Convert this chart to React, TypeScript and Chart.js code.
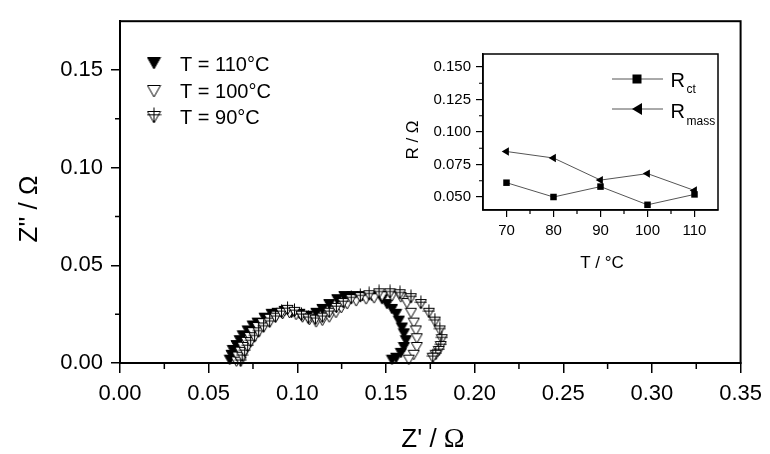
import React, { useEffect, useRef } from 'react';
import { Chart, registerables } from 'chart.js';

Chart.register(...registerables);

// ---------- data ----------
const SERIES_LABELS = ['T = 110°C', 'T = 100°C', 'T = 90°C'];

const T110_X = [0.0619, 0.0629, 0.0636, 0.0657, 0.0675, 0.0692, 0.0720, 0.0748, 0.0776, 0.0815, 0.0855, 0.0888, 0.0928, 0.0967, 0.1012, 0.1057, 0.1107, 0.1141, 0.1180, 0.1225, 0.1265, 0.1310, 0.1366, 0.1422, 0.1478, 0.1506, 0.1534, 0.1557, 0.1573, 0.1590, 0.1601, 0.1612, 0.1601, 0.1584, 0.1557, 0.1534];
const T110_Y = [0.0017, 0.0042, 0.0067, 0.0092, 0.0117, 0.0142, 0.0167, 0.0192, 0.0207, 0.0232, 0.0252, 0.0257, 0.0267, 0.0257, 0.0252, 0.0242, 0.0257, 0.0277, 0.0302, 0.0327, 0.0343, 0.0343, 0.0343, 0.0343, 0.0327, 0.0302, 0.0277, 0.0252, 0.0217, 0.0182, 0.0152, 0.0117, 0.0082, 0.0052, 0.0027, 0.0017];

const T100_X = [0.0657, 0.0664, 0.0679, 0.0692, 0.0713, 0.0731, 0.0748, 0.0776, 0.0804, 0.0844, 0.0881, 0.0917, 0.0956, 0.0993, 0.1029, 0.1068, 0.1106, 0.1141, 0.1180, 0.1218, 0.1248, 0.1281, 0.1332, 0.1388, 0.1433, 0.1478, 0.1534, 0.1584, 0.1618, 0.1641, 0.1657, 0.1669, 0.1674, 0.1674, 0.1657, 0.1629];
const T100_Y = [0.0008, 0.0033, 0.0058, 0.0083, 0.0108, 0.0133, 0.0158, 0.0184, 0.0204, 0.0226, 0.0242, 0.0251, 0.0256, 0.0247, 0.0234, 0.0221, 0.0209, 0.0217, 0.0234, 0.0257, 0.0282, 0.0302, 0.0317, 0.0327, 0.0332, 0.0343, 0.0343, 0.0337, 0.0307, 0.0257, 0.0207, 0.0167, 0.0127, 0.0082, 0.0042, 0.0017];

const T90_X = [0.0681, 0.0689, 0.0703, 0.0720, 0.0737, 0.0759, 0.0782, 0.0810, 0.0844, 0.0877, 0.0911, 0.0945, 0.0984, 0.1023, 0.1062, 0.1102, 0.1141, 0.1180, 0.1220, 0.1259, 0.1304, 0.1355, 0.1405, 0.1461, 0.1523, 0.1579, 0.1641, 0.1697, 0.1742, 0.1776, 0.1804, 0.1815, 0.1809, 0.1798, 0.1781, 0.1764];
const T90_Y = [0.0007, 0.0032, 0.0057, 0.0082, 0.0107, 0.0132, 0.0157, 0.0182, 0.0207, 0.0232, 0.0257, 0.0272, 0.0262, 0.0242, 0.0227, 0.0222, 0.0232, 0.0257, 0.0282, 0.0307, 0.0327, 0.0337, 0.0347, 0.0357, 0.0357, 0.0352, 0.0332, 0.0302, 0.0257, 0.0212, 0.0167, 0.0122, 0.0087, 0.0062, 0.0042, 0.0027];

const MAIN_X_TICKS = [0, 0.05, 0.1, 0.15, 0.2, 0.25, 0.3, 0.35];
const MAIN_X_MINOR = [0.025, 0.075, 0.125, 0.175, 0.225, 0.275, 0.325];
const MAIN_Y_TICKS = [0, 0.05, 0.1, 0.15];
const MAIN_Y_MINOR = [0.025, 0.075, 0.125];

// inset
const TEMPS = [70, 80, 90, 100, 110];
const R_CT = [0.061, 0.050, 0.058, 0.044, 0.052];
const R_MASS = [0.085, 0.080, 0.063, 0.068, 0.055];
const INSET_X_TICKS = [70, 80, 90, 100, 110];
const INSET_X_MINOR = [75, 85, 95, 105];
const INSET_Y_TICKS = [0.05, 0.075, 0.1, 0.125, 0.15];
const INSET_Y_MINOR = [0.0625, 0.0875, 0.1125, 0.1375];

// ---------- helpers ----------
const SANS = "'Liberation Sans', Arial, sans-serif";
const SERIF = "'Liberation Serif', 'Times New Roman', serif";

const pts = (xs: number[], ys: number[]) => xs.map((x, i) => ({ x, y: ys[i] }));

type Kind = 'filled' | 'open' | 'cross';
function makeTri(kind: Kind, w: number, h: number): HTMLCanvasElement {
  const ext = kind === 'cross' ? 3 : 0;
  const c = document.createElement('canvas');
  c.width = w + 2;
  c.height = h + 2 + 2 * ext;
  const g = c.getContext('2d')!;
  const x0 = 1;
  const y0 = 1 + ext;
  g.beginPath();
  g.moveTo(x0, y0 + 0.5);
  g.lineTo(x0 + w, y0 + 0.5);
  g.lineTo(x0 + w / 2, y0 + h);
  g.closePath();
  g.lineWidth = 1;
  g.strokeStyle = '#000';
  g.fillStyle = kind === 'filled' ? '#000' : '#fff';
  g.fill();
  g.stroke();
  if (kind === 'cross') {
    g.beginPath();
    g.moveTo(x0 + w / 2, 0.5);
    g.lineTo(x0 + w / 2, y0 + h);
    const hy = y0 + h * 0.32;
    g.moveTo(x0 - 0.5, hy);
    g.lineTo(x0 + w + 0.5, hy);
    g.stroke();
  }
  return c;
}

function drawMixed(ctx: CanvasRenderingContext2D, parts: [string, string][], cx: number, by: number) {
  let total = 0;
  parts.forEach(([t, f]) => { ctx.font = f; total += ctx.measureText(t).width; });
  let x = cx - total / 2;
  ctx.textAlign = 'left';
  ctx.textBaseline = 'alphabetic';
  parts.forEach(([t, f]) => { ctx.font = f; ctx.fillText(t, x, by); x += ctx.measureText(t).width; });
}

export default function App() {
  const mainRef = useRef<HTMLCanvasElement>(null);
  const insetRef = useRef<HTMLCanvasElement>(null);

  useEffect(() => {
    const mFilled = makeTri('filled', 11, 10);
    const mOpen = makeTri('open', 11, 10);
    const mCross = makeTri('cross', 11, 10);
    const lFilled = makeTri('filled', 13, 12);
    const lOpen = makeTri('open', 13, 12);
    const lCross = makeTri('cross', 13, 12);

    const mainDecor = {
      id: 'mainDecor',
      afterDraw(chart: any) {
        const { ctx, chartArea: a, scales } = chart;
        const xs = scales.x, ys = scales.y;
        ctx.save();
        ctx.strokeStyle = '#000';
        ctx.lineWidth = 2;
        ctx.strokeRect(a.left, a.top, a.right - a.left, a.bottom - a.top);
        ctx.lineWidth = 1.5;
        ctx.beginPath();
        MAIN_X_MINOR.forEach(v => { const p = xs.getPixelForValue(v); ctx.moveTo(p, a.bottom); ctx.lineTo(p, a.bottom + 6); });
        MAIN_Y_MINOR.forEach(v => { const p = ys.getPixelForValue(v); ctx.moveTo(a.left - 5, p); ctx.lineTo(a.left, p); });
        ctx.stroke();
        ctx.fillStyle = '#000';
        // axis titles
        drawMixed(ctx, [["Z' / ", `26px ${SANS}`], ['Ω', `28px ${SERIF}`]], 433, 447);
        ctx.save();
        ctx.translate(37, 209);
        ctx.rotate(-Math.PI / 2);
        drawMixed(ctx, [["Z'' / Ω", `26px ${SANS}`]], 0, 0);
        ctx.restore();
        // legend
        const imgs = [lFilled, lOpen, lCross];
        const my = [63, 91, 117];
        const ty = [70.5, 98, 123.5];
        imgs.forEach((im, i) => ctx.drawImage(im, 154 - im.width / 2, my[i] - im.height / 2));
        ctx.font = `20px ${SANS}`;
        ctx.textAlign = 'left';
        ctx.textBaseline = 'alphabetic';
        SERIES_LABELS.forEach((t, i) => ctx.fillText(t, 180, ty[i]));
        ctx.restore();
      },
    };

    const main = new Chart(mainRef.current!, {
      type: 'scatter',
      data: {
        datasets: [
          { label: SERIES_LABELS[0], data: pts(T110_X, T110_Y), pointStyle: mFilled as any, pointRadius: 5, showLine: false, clip: false as any, order: 3 },
          { label: SERIES_LABELS[1], data: pts(T100_X, T100_Y), pointStyle: mOpen as any, pointRadius: 5, showLine: false, clip: false as any, order: 2 },
          { label: SERIES_LABELS[2], data: pts(T90_X, T90_Y), pointStyle: mCross as any, pointRadius: 5, showLine: false, clip: false as any, order: 1 },
        ],
      },
      options: {
        animation: false,
        responsive: false,
        events: [],
        layout: { padding: { left: 0, top: 15, right: 27, bottom: 0 } },
        plugins: { legend: { display: false }, tooltip: { enabled: false } },
        scales: {
          x: {
            type: 'linear', min: 0, max: 0.35,
            afterBuildTicks: (s: any) => { s.ticks = MAIN_X_TICKS.map(v => ({ value: v })); },
            afterFit: (s: any) => { s.height = 91; },
            ticks: { callback: (v: any) => Number(v).toFixed(2), color: '#000', font: { family: SANS, size: 22 }, padding: 8, maxRotation: 0, autoSkip: false },
            grid: { drawOnChartArea: false, drawTicks: true, tickLength: 10, color: '#000', lineWidth: 1.5 },
            border: { display: true, color: '#000', width: 2 },
          },
          y: {
            type: 'linear', min: 0, max: 0.175,
            afterBuildTicks: (s: any) => { s.ticks = MAIN_Y_TICKS.map(v => ({ value: v })); },
            afterFit: (s: any) => { s.width = 120; },
            ticks: { callback: (v: any) => Number(v).toFixed(2), color: '#000', font: { family: SANS, size: 22 }, padding: 8, autoSkip: false },
            grid: { drawOnChartArea: false, drawTicks: true, tickLength: 9, color: '#000', lineWidth: 1.5 },
            border: { display: true, color: '#000', width: 2 },
          },
        },
      },
      plugins: [mainDecor],
    } as any);

    const IOX = 395, IOY = 40;
    const insetDecor = {
      id: 'insetDecor',
      afterDraw(chart: any) {
        const { ctx, chartArea: a, scales } = chart;
        const xs = scales.x, ys = scales.y;
        ctx.save();
        ctx.strokeStyle = '#000';
        ctx.lineWidth = 1.5;
        ctx.strokeRect(a.left, a.top, a.right - a.left, a.bottom - a.top);
        ctx.lineWidth = 1.2;
        ctx.beginPath();
        INSET_X_MINOR.forEach(v => { const p = xs.getPixelForValue(v); ctx.moveTo(p, a.bottom); ctx.lineTo(p, a.bottom + 4); });
        INSET_Y_MINOR.forEach(v => { const p = ys.getPixelForValue(v); ctx.moveTo(a.left - 4, p); ctx.lineTo(a.left, p); });
        ctx.stroke();
        ctx.fillStyle = '#000';
        drawMixed(ctx, [['T / °C', `17px ${SANS}`]], 602 - IOX, 268 - IOY);
        ctx.save();
        ctx.translate(418 - IOX, 140 - IOY);
        ctx.rotate(-Math.PI / 2);
        drawMixed(ctx, [['R / Ω', `17px ${SANS}`]], 0, 0);
        ctx.restore();
        // legend
        const lx0 = 612 - IOX, lx1 = 663 - IOX, mx = 637 - IOX;
        const y1 = 79 - IOY, y2 = 109 - IOY;
        ctx.strokeStyle = '#555';
        ctx.lineWidth = 1;
        ctx.beginPath();
        ctx.moveTo(lx0, y1); ctx.lineTo(lx1, y1);
        ctx.moveTo(lx0, y2); ctx.lineTo(lx1, y2);
        ctx.stroke();
        ctx.fillStyle = '#000';
        ctx.fillRect(mx - 4.5, y1 - 4.5, 9, 9);
        ctx.beginPath();
        ctx.moveTo(mx - 5, y2); ctx.lineTo(mx + 5, y2 - 6); ctx.lineTo(mx + 5, y2 + 6); ctx.closePath();
        ctx.fill();
        ctx.textAlign = 'left';
        ctx.textBaseline = 'alphabetic';
        ctx.font = `20px ${SANS}`;
        ctx.fillText('R', 275.5, 87 - IOY);
        ctx.fillText('R', 275.5, 118 - IOY);
        ctx.font = `12px ${SANS}`;
        ctx.fillText('ct', 291.5, 93 - IOY);
        ctx.fillText('mass', 291.5, 125 - IOY);
        ctx.restore();
      },
    };

    const inset = new Chart(insetRef.current!, {
      type: 'scatter',
      data: {
        datasets: [
          { label: 'Rct', data: pts(TEMPS, R_CT), showLine: true, borderColor: '#555', borderWidth: 1, pointStyle: 'rect', pointRadius: 4.6, pointBackgroundColor: '#000', pointBorderColor: '#000', pointBorderWidth: 0, clip: false as any },
          { label: 'Rmass', data: pts(TEMPS, R_MASS), showLine: true, borderColor: '#555', borderWidth: 1, pointStyle: 'triangle', pointRotation: -90, pointRadius: 4.8, pointBackgroundColor: '#000', pointBorderColor: '#000', pointBorderWidth: 0, clip: false as any },
        ],
      },
      options: {
        animation: false,
        responsive: false,
        events: [],
        layout: { padding: { left: 0, top: 12, right: 37, bottom: 0 } },
        plugins: { legend: { display: false }, tooltip: { enabled: false } },
        scales: {
          x: {
            type: 'linear', min: 65, max: 115,
            afterBuildTicks: (s: any) => { s.ticks = INSET_X_TICKS.map(v => ({ value: v })); },
            afterFit: (s: any) => { s.height = 70; },
            ticks: { callback: (v: any) => String(v), color: '#000', font: { family: SANS, size: 15 }, padding: 5, maxRotation: 0, autoSkip: false },
            grid: { drawOnChartArea: false, drawTicks: true, tickLength: 7, color: '#000', lineWidth: 1.2 },
            border: { display: true, color: '#000', width: 1.5 },
          },
          y: {
            type: 'linear', min: 0.04, max: 0.16,
            afterBuildTicks: (s: any) => { s.ticks = INSET_Y_TICKS.map(v => ({ value: v })); },
            afterFit: (s: any) => { s.width = 88; },
            ticks: { callback: (v: any) => Number(v).toFixed(3), color: '#000', font: { family: SANS, size: 15 }, padding: 5, autoSkip: false },
            grid: { drawOnChartArea: false, drawTicks: true, tickLength: 7, color: '#000', lineWidth: 1.2 },
            border: { display: true, color: '#000', width: 1.5 },
          },
        },
      },
      plugins: [insetDecor],
    } as any);

    return () => { main.destroy(); inset.destroy(); };
  }, []);

  return (
    <div style={{ position: 'absolute', left: 0, top: 0, width: 770, height: 454, background: '#fff', overflow: 'hidden' }}>
      <canvas ref={mainRef} width={770} height={454} style={{ position: 'absolute', left: 0, top: 0 }} />
      <canvas ref={insetRef} width={360} height={240} style={{ position: 'absolute', left: 395, top: 40 }} />
    </div>
  );
}
